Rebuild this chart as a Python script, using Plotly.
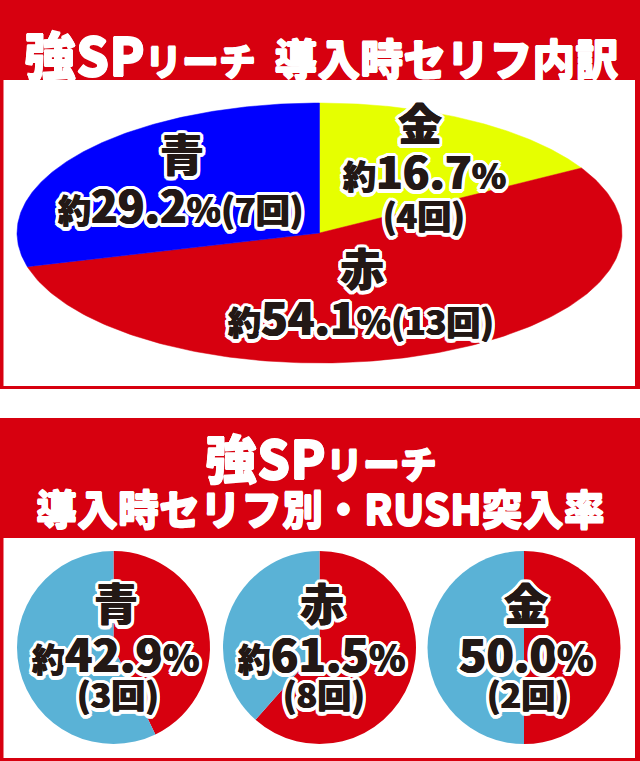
import numpy as np
import plotly.graph_objects as go

# ---------------- data ----------------
# top: breakdown of lines (clockwise from 12 o'clock)
top_labels = ["金", "赤", "青"]
top_counts = [4, 13, 7]
top_pct = ["16.7", "54.1", "29.2"]

# bottom: RUSH entry rate per line
rush_labels = ["青", "赤", "金"]
rush_hits = [3, 8, 2]
rush_totals = [7, 13, 4]
rush_pct = ["42.9", "61.5", "50.0"]
rush_prefix = ["約", "約", ""]

# ---------------- styles ----------------
RED = "#D7000F"
LBLUE = "#5AB2D6"
top_colors = {"金": "#E6FF00", "赤": RED, "青": "#0000FF"}
INK = "#231815"
FONT = "Noto Sans CJK JP"
W, H = 640, 761

fig = go.Figure()

# ---- top "ellipse pie" drawn on a pixel-scaled cartesian axis ----
cx, cy, ax_a, ax_b = 319.5, 233, 302.5, 130
total = sum(top_counts)
start = 90.0
for lab, cnt in zip(top_labels, top_counts):
    sweep = cnt / total * 360.0
    th = np.radians(np.linspace(start, start - sweep, 200))
    xs = np.concatenate([[cx], cx + ax_a * np.cos(th), [cx]])
    ys = np.concatenate([[cy], cy - ax_b * np.sin(th), [cy]])
    fig.add_trace(go.Scatter(x=xs, y=ys, mode="lines", fill="toself",
                             fillcolor=top_colors[lab], line=dict(width=0.5, color=top_colors[lab]),
                             hoverinfo="skip", showlegend=False))
    start -= sweep

# ---- bottom pies ----
pie_cx = [113.5, 319.5, 524]
pie_cy = 647.5
pie_r = 96.5
for i in range(3):
    fig.add_trace(go.Pie(
        values=[rush_hits[i], rush_totals[i] - rush_hits[i]],
        labels=["RUSH", "other"],
        marker=dict(colors=[RED, LBLUE], line=dict(width=0)),
        sort=False, direction="clockwise", rotation=0,
        textinfo="none", hoverinfo="skip", showlegend=False,
        domain=dict(x=[(pie_cx[i] - pie_r) / W, (pie_cx[i] + pie_r) / W],
                    y=[(H - pie_cy - pie_r) / H, (H - pie_cy + pie_r) / H]),
    ))

# ---- frames / headers ----
shapes = [
    dict(type="rect", x0=0, x1=640, y0=0, y1=389, fillcolor=RED, line=dict(width=0)),
    dict(type="rect", x0=3.5, x1=635, y0=80, y1=386, fillcolor="white", line=dict(width=0)),
    dict(type="rect", x0=0, x1=640, y0=418, y1=761, fillcolor=RED, line=dict(width=0)),
    dict(type="rect", x0=3.5, x1=635, y0=538, y1=758, fillcolor="white", line=dict(width=0)),
]
for s in shapes:
    s.update(xref="x", yref="y", layer="below")

dark = [(0.5, 0), (-0.5, 0)]
white = [(3.5, 0), (-3.5, 0), (0, 3.5), (0, -3.5), (2.5, 2.5), (-2.5, 2.5), (2.5, -2.5), (-2.5, -2.5),
         (3.5, 1.5), (-3.5, 1.5), (3.5, -1.5), (-3.5, -1.5), (1.5, 3.5), (-1.5, 3.5), (1.5, -3.5), (-1.5, -3.5),
         (2, 0), (-2, 0), (0, 2), (0, -2)]
sh = ", ".join([f"{dx}px {dy}px 0 {INK}" for dx, dy in dark] +
               [f"{dx}px {dy}px 0 #fff" for dx, dy in white])
hdr_sh = "0.6px 0 0 #fff, -0.6px 0 0 #fff, 0 0.6px 0 #fff, 0 -0.6px 0 #fff"

def sp(t, size):
    return f"<span style='font-size:{size}px'>{t}</span>"

annotations = []

def ann(text, x, y, size, color=INK, shadow=sh):
    annotations.append(dict(text=text, x=x, y=y, xref="x", yref="y", showarrow=False,
                            xanchor="center", yanchor="middle",
                            font=dict(family=FONT, size=size, color=color, weight=900,
                                      shadow=shadow)))

# headers
ann("強SP" + sp("リーチ", 37) + sp("&nbsp;", 80) + sp("導入時セリフ内訳", 43),
    321, 41, 52, "white", hdr_sh)
ann("強SP" + sp("リーチ", 37), 321, 456, 52, "white", hdr_sh)
ann("導入時セリフ別・RUSH突入率", 320, 507, 41, "white", hdr_sh)

# top labels
top_pos = {"金": [(420, 122), (424, 170), (424, 214)],
           "赤": [(362, 267), (361, 316)],
           "青": [(182, 153), (180, 204)]}
for lab, cnt, pct in zip(top_labels, top_counts, top_pct):
    pos = top_pos[lab]
    ann(lab, pos[0][0], pos[0][1], 44)
    line = sp("約", 33) + pct + sp("%", 35)
    cnt_txt = sp(f"({cnt}回)", 34)
    if len(pos) == 3:
        ann(line, pos[1][0], pos[1][1], 44)
        ann(f"({cnt}回)", pos[2][0], pos[2][1], 34)
    else:
        ann(line + cnt_txt, pos[1][0], pos[1][1], 44)

# bottom labels
for i in range(3):
    x = pie_cx[i] + 2
    ann(rush_labels[i], x, 602, 44)
    pre = sp(rush_prefix[i], 33) if rush_prefix[i] else ""
    ann(pre + rush_pct[i] + sp("%", 37), x, 652, 45)
    ann(f"({rush_hits[i]}回)", x + 2, 693, 34)

fig.update_layout(
    width=W, height=H, margin=dict(l=0, r=0, t=0, b=0),
    paper_bgcolor="white", plot_bgcolor="white",
    xaxis=dict(range=[0, W], visible=False, fixedrange=True, domain=[0, 1]),
    yaxis=dict(range=[H, 0], visible=False, fixedrange=True, domain=[0, 1]),
    shapes=shapes, annotations=annotations,
    font=dict(family=FONT),
)
fig.write_html("out.html", config={"displayModeBar": False},
               post_script="document.body.style.margin='0';document.body.style.padding='0';")
